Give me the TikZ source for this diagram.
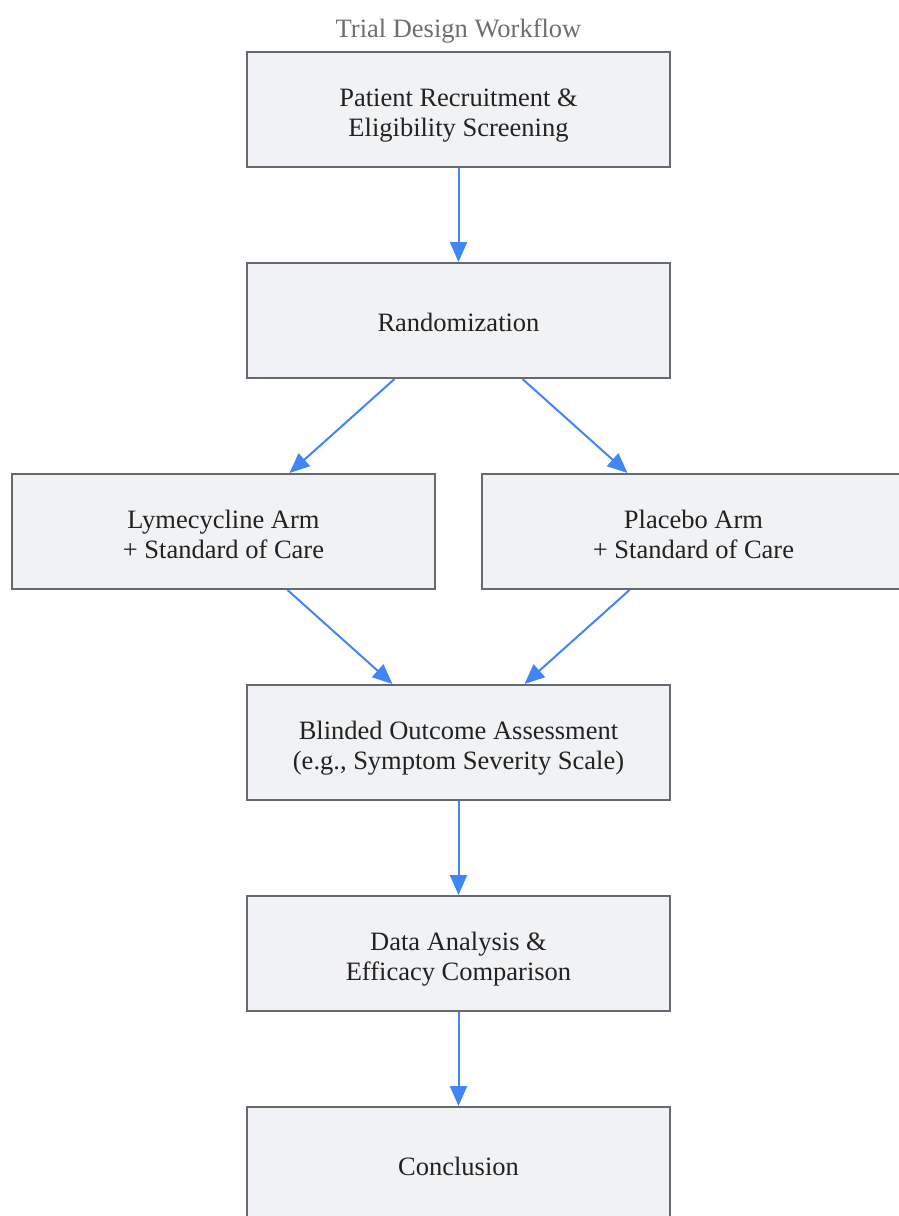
\documentclass[tikz,border=0pt]{standalone}
\usepackage{fontspec}
\setmainfont{Liberation Serif}
\usetikzlibrary{arrows.meta}

\definecolor{boxfill}{HTML}{F1F2F4}
\definecolor{boxline}{HTML}{666A70}
\definecolor{flowblue}{HTML}{4285F4}
\definecolor{titlegray}{HTML}{6B6E73}
\definecolor{textdark}{HTML}{222222}

\begin{document}
\begin{tikzpicture}[x=1pt, y=-1pt, font=\fontsize{26.5}{30}\selectfont,
  stage/.style={draw=boxline, fill=boxfill, line width=2pt, text=textdark,
    minimum width=423pt, minimum height=115pt, align=center, inner sep=0pt,
    text height=24pt, text depth=3pt},
  twoline/.style={stage, text height=56pt, text depth=3pt},
  flow/.style={draw=flowblue, line width=2pt,
    -{Triangle[length=20pt, width=17pt]}}]

\useasboundingbox (0,0) rectangle (898,1216);

% title
\node[text=titlegray] (title) at (458.5,31) {Trial Design Workflow};

% stages
\node[twoline] (recruit) at (458.5,109.5) {Patient Recruitment \&\\Eligibility Screening};
\node[stage] (rand) at (458.5,320.5) {Randomization};
\node[twoline] (lyme) at (223.5,531.5) {Lymecycline Arm\\+ Standard of Care};
\node[twoline] (placebo) at (693.5,531.5) {Placebo Arm\\+ Standard of Care};
\node[twoline] (blind) at (458.5,742.5) {Blinded Outcome Assessment\\(e.g., Symptom Severity Scale)};
\node[twoline] (data) at (458.5,953.5) {Data Analysis \&\\Efficacy Comparison};
\node[stage] (concl) at (458.5,1164.5) {Conclusion};

% connectors
\draw[flow] (recruit) -- (rand);
\draw[flow] ([xshift=-64pt]rand.south) -- ([xshift=66pt]lyme.north);
\draw[flow] ([xshift=64pt]rand.south) -- ([xshift=-66pt]placebo.north);
\draw[flow] ([xshift=64pt]lyme.south) -- ([xshift=-66pt]blind.north);
\draw[flow] ([xshift=-64pt]placebo.south) -- ([xshift=66pt]blind.north);
\draw[flow] (blind) -- (data);
\draw[flow] (data) -- (concl);

\end{tikzpicture}
\end{document}
